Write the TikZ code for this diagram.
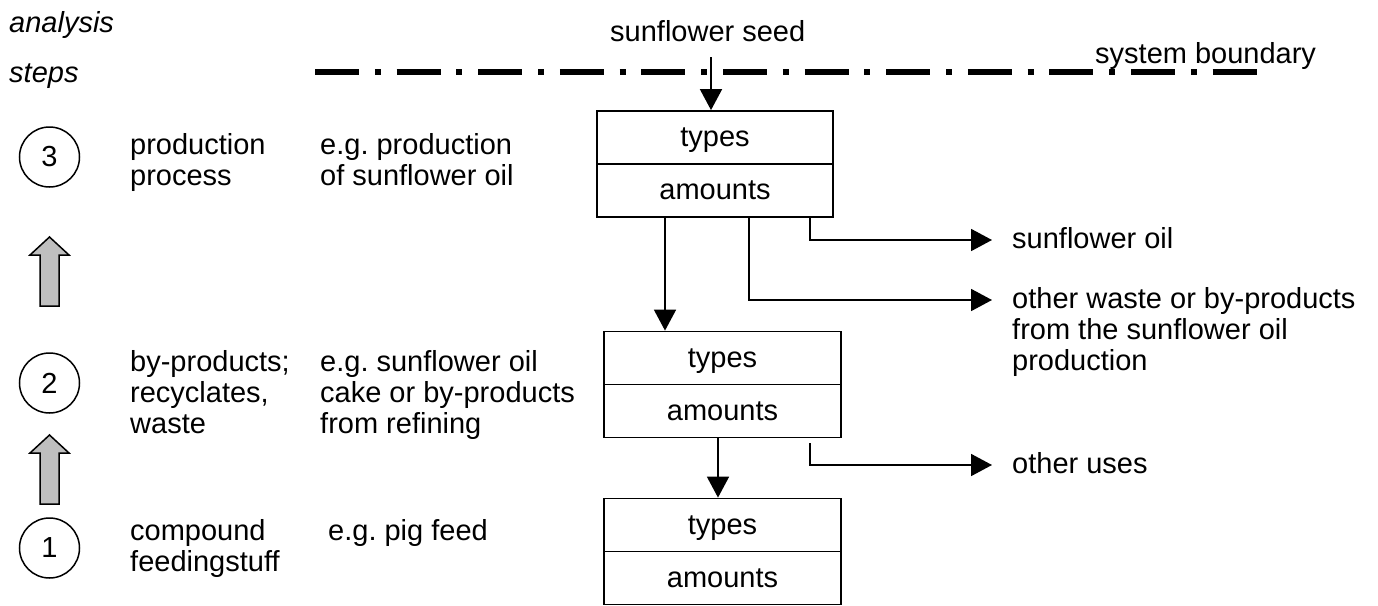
\documentclass[tikz,border=0pt]{standalone}
\usepackage{fontspec}
\setmainfont{Liberation Sans}
\usetikzlibrary{arrows.meta}
\newcommand{\txtsize}{\fontsize{29}{31}\selectfont}
\frenchspacing
\begin{document}
\begin{tikzpicture}[x=1pt,y=-1pt,
  % multi-line labels are placed by the baseline of their last line
  lbl/.style={font=\txtsize, inner sep=0pt, anchor=base west, align=left},
  cell/.style={draw, line width=1.8pt, minimum width=237pt, minimum height=53pt,
               inner sep=0pt, text height=20pt, text depth=2pt, font=\txtsize},
  flow/.style={line width=1.8pt, -{Triangle[length=21pt,width=22pt]}},
  stepnum/.style={draw, circle, line width=1.5pt, minimum size=60pt,
                  inner sep=0pt, font=\txtsize},
  upshape/.style={draw, line width=1.5pt, fill=black!25, line join=miter},
  boundary/.style={line width=6pt, dash pattern=on 44pt off 15.8pt on 6pt off 15.8pt}
]
\useasboundingbox (0,0) rectangle (1378,605);

% header
\node[lbl, font=\txtsize\itshape] (ana) at (9,32) {analysis};
\node[lbl, font=\txtsize\itshape] (steps) at (9,82) {steps};
\node[lbl] (seed) at (610,41) {sunflower seed};
\node[lbl] (sysb) at (1095,63) {system boundary};
\draw[boundary] (315,72) -- (1257,72);

% analysis steps
\node[stepnum] (s3) at (49.5,157) {3};
\node[stepnum] (s2) at (49.5,383) {2};
\node[stepnum] (s1) at (49.5,548) {1};
\foreach \t in {237,435}{
  \draw[upshape] (49.5,\t) -- (69,\t+18) -- (59,\t+18) -- (59,\t+69)
                 -- (40,\t+69) -- (40,\t+18) -- (30,\t+18) -- cycle;
}

\node[lbl] (p3) at (130,185) {production\\process};
\node[lbl] (e3) at (320,185) {e.g. production\\of sunflower oil};
\node[lbl] (p2) at (130,433) {by-products;\\recyclates,\\waste};
\node[lbl] (e2) at (320,433) {e.g. sunflower oil\\cake or by-products\\from refining};
\node[lbl] (p1) at (130,571) {compound\\feedingstuff};
\node[lbl] (e1) at (328,540) {e.g. pig feed};

% record boxes
\node[cell, minimum width=236pt] (t1) at (715,137.5) {types};
\node[cell, minimum width=236pt] (a1) at (715,190.5) {amounts};
\node[cell] (t2) at (722.5,358) {types};
\node[cell] (a2) at (722.5,411) {amounts};
\node[cell] (t3) at (722.5,525) {types};
\node[cell] (a3) at (722.5,578) {amounts};

% outputs
\node[lbl] (oil) at (1012,248) {sunflower oil};
\node[lbl] (waste) at (1012,370) {other waste or by-products\\from the sunflower oil\\production};
\node[lbl] (uses) at (1012,473) {other uses};
\coordinate (seedtail) at (711,57);
\coordinate (oiltip) at (992,240);
\coordinate (wastetip) at (992,300);
\coordinate (usestip) at (992,465);

% flows
\draw[flow] (seedtail) -- (seedtail |- t1.north);
\draw[flow] ([xshift=-50pt]a1.south) -- ([xshift=-57.5pt]t2.north);
\draw[flow] ([xshift=95pt]a1.south) |- (oiltip);
\draw[flow] ([xshift=34pt]a1.south) |- (wastetip);
\draw[flow] ([xshift=-4.5pt]a2.south) -- ([xshift=-4.5pt]t3.north);
\draw[flow] ([xshift=87.5pt,yshift=-5pt]a2.south) |- (usestip);
\end{tikzpicture}
\end{document}
